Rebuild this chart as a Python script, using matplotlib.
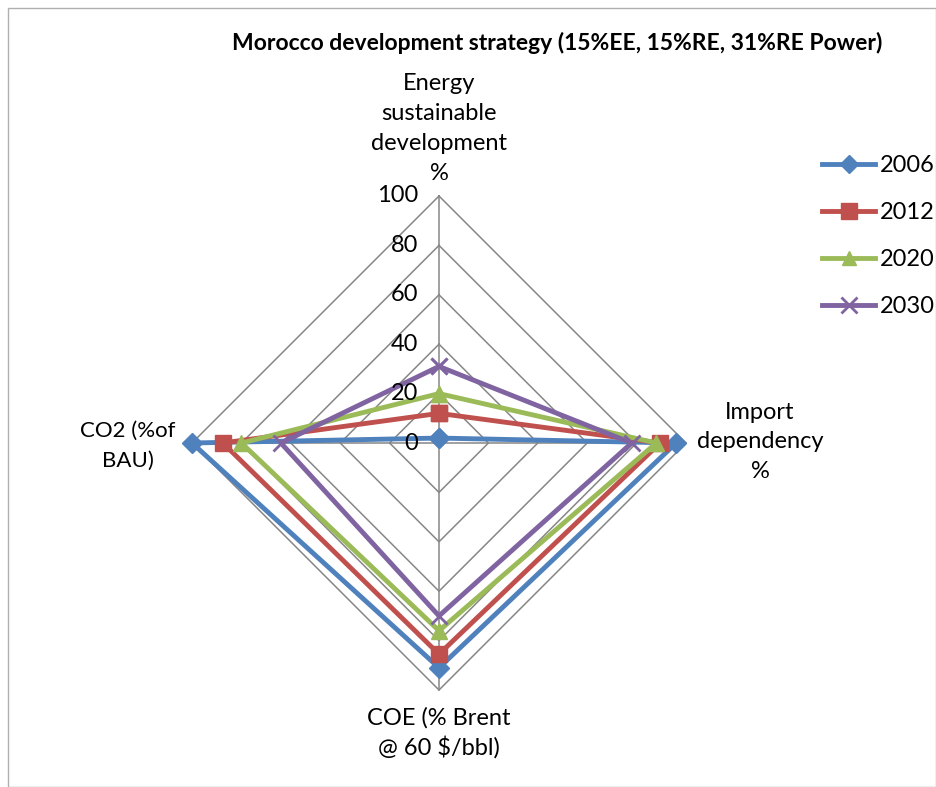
import numpy as np
import matplotlib.pyplot as plt
from matplotlib.lines import Line2D
from matplotlib.patches import Rectangle

# axes: top, right, bottom, left (clockwise like Excel radar)
axis_labels = ['Energy\nsustainable\ndevelopment\n%', 'Import\ndependency\n%',
               'COE (% Brent\n@ 60 $/bbl)', 'CO2 (%of\nBAU)']
years = ['2006', '2012', '2020', '2030']
v2006 = [2, 96, 91, 100]
v2012 = [12, 89.5, 85.5, 87.5]
v2020 = [20, 88, 76, 80]
v2030 = [31, 78, 70, 64]
ticks = [0, 20, 40, 60, 80, 100]

colors = ['#4F81BD', '#C0504D', '#9BBB59', '#8064A2']
markers = ['D', 's', '^', 'x']
msizes = [10, 12, 11, 12]

plt.rcParams['font.family'] = ['Lato', 'DejaVu Sans']

W, H = 937, 787
cx, cy, rpx = 439, 443, 247.0
fig = plt.figure(figsize=(W / 100, H / 100), dpi=100)
ax = fig.add_axes([0, 0, 1, 1])
ax.set_xlim(-cx / rpx * 100, (W - cx) / rpx * 100)
ax.set_ylim(-(H - cy) / rpx * 100, cy / rpx * 100)
ax.axis('off')

# directions: up, right, down, left
dirs = np.array([[0, 1], [1, 0], [0, -1], [-1, 0]])

def to_xy(vals):
    pts = dirs * np.array(vals)[:, None]
    return np.vstack([pts, pts[:1]])

# grid
for t in ticks[1:]:
    g = to_xy([t] * 4)
    ax.plot(g[:, 0], g[:, 1], color='#868686', lw=1.1, zorder=1)
for d in dirs:
    ax.plot([0, d[0] * 100], [0, d[1] * 100], color='#868686', lw=1.1, zorder=1)

fs = 17
for t in ticks:
    ax.text(-8.5, t, str(t), ha='right', va='center', fontsize=fs, zorder=5)

series = [v2006, v2012, v2020, v2030]
for vals, c, m, ms, yr in zip(series, colors, markers, msizes, years):
    p = to_xy(vals)
    ax.plot(p[:, 0], p[:, 1], color=c, lw=3.5, marker=m, ms=ms,
            mew=2 if m == 'x' else 1, zorder=3, label=yr)

# axis labels
ax.text(0, (cy - 184) / rpx * 100, axis_labels[0], ha='center', va='bottom',
        fontsize=fs, linespacing=1.53)
ax.text((760 - cx) / rpx * 100, -(442 - cy) / rpx * 100, axis_labels[1], ha='center',
        va='center', fontsize=fs, linespacing=1.5)
ax.text(0, -(707 - cy) / rpx * 100, axis_labels[2], ha='center', va='top',
        fontsize=fs, linespacing=1.4)
ax.text((128 - cx) / rpx * 100, -(446 - cy) / rpx * 100, axis_labels[3],
        ha='center', va='center', fontsize=16, linespacing=1.6)

fig.text(557 / W, 1 - 43 / H, 'Morocco development strategy (15%EE, 15%RE, 31%RE Power)',
         ha='center', va='center', fontsize=16.5, fontweight='bold')

handles = [Line2D([0], [0], color=c, lw=3.5, marker=m, ms=ms - 1, mew=2 if m == 'x' else 1)
           for c, m, ms in zip(colors, markers, msizes)]
leg = fig.legend(handles, years, loc='upper left', bbox_to_anchor=(822 / W, 1 - 155 / H),
                 frameon=False, fontsize=fs, handlelength=2.25, labelspacing=1.1,
                 handletextpad=0.2, borderpad=0, borderaxespad=0)

fig.add_artist(Rectangle((8 / W, 0), 1 - 8 / W - 0.001, 1 - 8 / H, transform=fig.transFigure,
                         fill=False, edgecolor='#B0B0B0', lw=1))

fig.savefig('out.png', dpi=100)
